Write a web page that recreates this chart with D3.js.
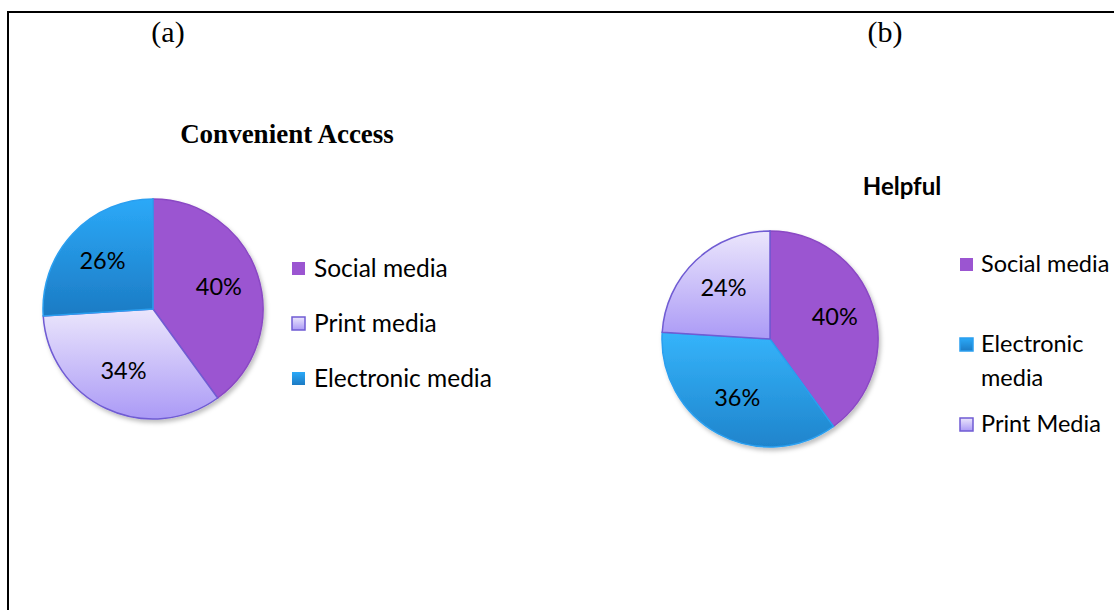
<!DOCTYPE html>
<html>
<head>
<meta charset="utf-8">
<script src="https://cdn.jsdelivr.net/npm/d3@7"></script>
<style>
  html, body { margin: 0; padding: 0; background: #fff; }
  svg { display: block; }
</style>
</head>
<body>
<svg id="chart" width="1114" height="610"></svg>
<script>
// Chart (a): Convenient Access
const accessCategories = ["Social media", "Print media", "Electronic media"];
const accessValues = [40, 34, 26];
// Chart (b): Helpful
const helpfulCategories = ["Social media", "Electronic media", "Print Media"];
const helpfulValues = [40, 36, 24];
const helpfulLegendLines = [["Social media"], ["Electronic", "media"], ["Print Media"]];

const SANS = "Lato, 'Open Sans', sans-serif";
const SERIF = "'Liberation Serif', 'Times New Roman', serif";

const svg = d3.select("#chart");
const defs = svg.append("defs");

function linGrad(id, top, bottom) {
  const g = defs.append("linearGradient").attr("id", id)
    .attr("x1", 0).attr("y1", 0).attr("x2", 0).attr("y2", 1);
  g.append("stop").attr("offset", "0%").attr("stop-color", top);
  g.append("stop").attr("offset", "100%").attr("stop-color", bottom);
}
linGrad("gPrint", "#ebe6fc", "#ab9af6");
linGrad("gElec", "#2ba9f8", "#1c7bc4");
linGrad("gElecB", "#35b4fb", "#1f84cc");

const shadow = defs.append("filter").attr("id", "shadow")
  .attr("x", "-10%").attr("y", "-10%").attr("width", "130%").attr("height", "130%");
shadow.append("feDropShadow").attr("dx", 2).attr("dy", 3).attr("stdDeviation", 2)
  .attr("flood-color", "#000").attr("flood-opacity", 0.25);

const fills = {
  "Social media": "#9b55d1",
  "Print media": "url(#gPrint)",
  "Print Media": "url(#gPrint)",
  "Electronic media": "url(#gElec)"
};
const strokes = {
  "Social media": "#8a48c4",
  "Print media": "#6f5bd3",
  "Print Media": "#6f5bd3",
  "Electronic media": "#2a9ff0"
};

// frame
svg.append("path").attr("d", "M8,610 L8,12 L1114,12")
  .attr("fill", "none").attr("stroke", "#000").attr("stroke-width", 2);

// panel letters
svg.append("text").attr("x", 168).attr("y", 42).attr("text-anchor", "middle")
  .attr("font-family", SERIF).attr("font-size", 30).text("(a)");
svg.append("text").attr("x", 885).attr("y", 42).attr("text-anchor", "middle")
  .attr("font-family", SERIF).attr("font-size", 30).text("(b)");

// titles
svg.append("text").attr("x", 287).attr("y", 143).attr("text-anchor", "middle")
  .attr("font-family", SERIF).attr("font-weight", "bold")
  .attr("font-size", 27).text("Convenient Access");
svg.append("text").attr("x", 902).attr("y", 195).attr("text-anchor", "middle")
  .attr("font-family", SANS).attr("font-weight", "bold")
  .attr("font-size", 24).text("Helpful");

function drawPie(cx, cy, r, cats, vals, labelPos, fillMap) {
  const data = cats.map((c, i) => ({ cat: c, value: vals[i] }));
  const pie = d3.pie().sort(null).value(d => d.value);
  const arc = d3.arc().innerRadius(0).outerRadius(r);
  const g = svg.append("g").attr("transform", `translate(${cx},${cy})`);
  const arcs = pie(data);
  g.append("g").attr("filter", "url(#shadow)")
    .selectAll("path").data(arcs).join("path")
    .attr("d", arc)
    .attr("fill", d => fillMap[d.data.cat])
    .attr("stroke", d => strokes[d.data.cat])
    .attr("stroke-width", 1.5);
  const labelArc = d3.arc().innerRadius(r * labelPos).outerRadius(r * labelPos);
  g.selectAll("text").data(arcs).join("text")
    .attr("transform", d => `translate(${labelArc.centroid(d)})`)
    .attr("text-anchor", "middle").attr("dy", "0.3em")
    .attr("font-family", SANS).attr("font-size", 23.5)
    .attr("fill", "#000")
    .text(d => d.data.value + "%");
}

drawPie(153, 309, 110, accessCategories, accessValues, 0.63, fills);
drawPie(770, 339, 108, helpfulCategories, helpfulValues, 0.63,
  Object.assign({}, fills, { "Electronic media": "url(#gElecB)" }));

// legend (a)
const legA = svg.append("g");
const yA = d3.scalePoint().domain(accessCategories).range([268, 378]);
accessCategories.forEach(c => {
  legA.append("rect").attr("x", 292).attr("y", yA(c) - 6).attr("width", 13).attr("height", 13)
    .attr("fill", fills[c]).attr("stroke", c === "Print media" ? strokes[c] : "none")
    .attr("stroke-width", 1.5);
  legA.append("text").attr("x", 314).attr("y", yA(c)).attr("dy", "0.35em")
    .attr("font-family", SANS).attr("font-size", 24.5).text(c);
});

// legend (b)
const legB = svg.append("g");
const yB = { "Social media": 264, "Electronic media": 344, "Print Media": 424 };
helpfulCategories.forEach((c, i) => {
  legB.append("rect").attr("x", 960).attr("y", yB[c] - 6).attr("width", 13).attr("height", 13)
    .attr("fill", c === "Electronic media" ? "url(#gElec)" : fills[c])
    .attr("stroke", c === "Social media" ? "none" : strokes[c]).attr("stroke-width", 1.5);
  helpfulLegendLines[i].forEach((line, j) => {
    legB.append("text").attr("x", 981).attr("y", yB[c] + j * 34).attr("dy", "0.35em")
      .attr("font-family", SANS).attr("font-size", 23.5).text(line);
  });
});
</script>
</body>
</html>
